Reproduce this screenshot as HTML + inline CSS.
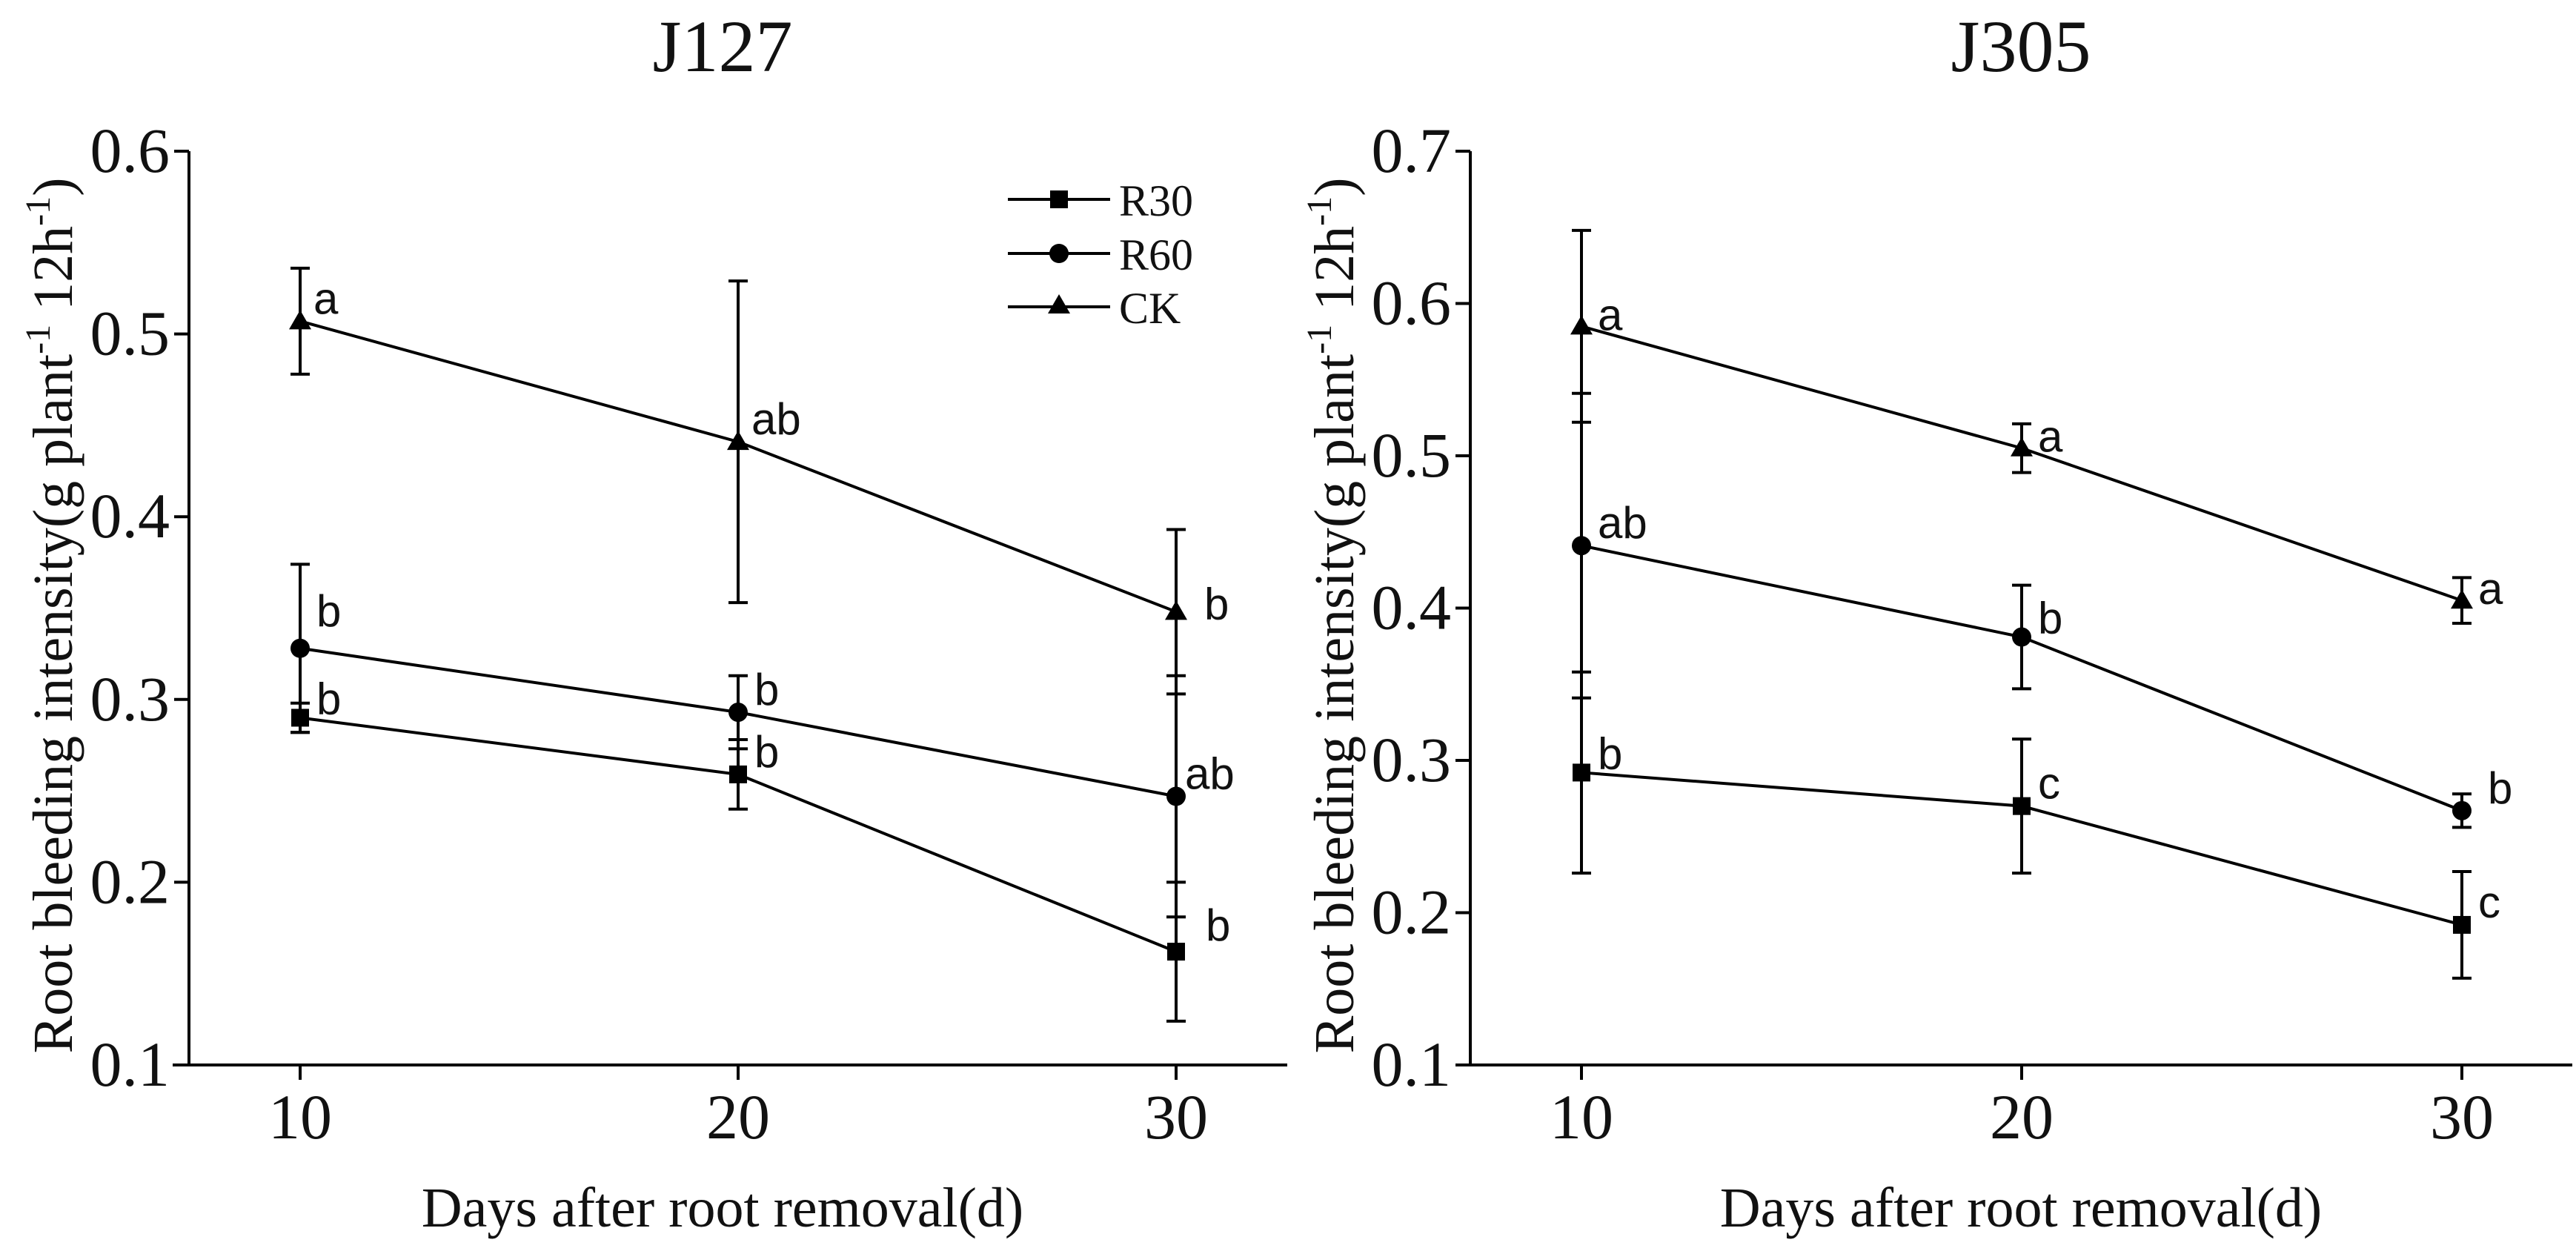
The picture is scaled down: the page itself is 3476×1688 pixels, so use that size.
<!DOCTYPE html>
<html><head><meta charset="utf-8"><style>
html,body{margin:0;padding:0;background:#fff;}
svg{display:block;}
text{fill:#111;}
.serif{font-family:"Liberation Serif",serif;}
.sans{font-family:"Liberation Sans",sans-serif;}
</style></head><body>
<svg id="chart" width="3476" height="1688" viewBox="0 0 3476 1688" xmlns="http://www.w3.org/2000/svg"></svg>
<script>
// ---- data ----
const days = [10, 20, 30];
const seriesNames = ["R30", "R60", "CK"];
// J127
const j127_R30 = [0.290, 0.259, 0.162];
const j127_R30_err = [0.008, 0.019, 0.038];
const j127_R60 = [0.328, 0.293, 0.247];
const j127_R60_err = [0.046, 0.020, 0.066];
const j127_CK = [0.507, 0.441, 0.348];
const j127_CK_err = [0.029, 0.088, 0.045];
const j127_R30_lab = ["b", "b", "b"];
const j127_R60_lab = ["b", "b", "ab"];
const j127_CK_lab = ["a", "ab", "b"];
// J305
const j305_R30 = [0.292, 0.270, 0.192];
const j305_R30_err = [0.066, 0.044, 0.035];
const j305_R60 = [0.441, 0.381, 0.267];
const j305_R60_err = [0.100, 0.034, 0.011];
const j305_CK = [0.585, 0.505, 0.405];
const j305_CK_err = [0.063, 0.016, 0.015];
const j305_R30_lab = ["b", "c", "c"];
const j305_R60_lab = ["ab", "b", "b"];
const j305_CK_lab = ["a", "a", "a"];
const j127_yticks = [0.1, 0.2, 0.3, 0.4, 0.5, 0.6];
const j305_yticks = [0.1, 0.2, 0.3, 0.4, 0.5, 0.6, 0.7];
const xticks = [10, 20, 30];

const NS = "http://www.w3.org/2000/svg";
const svg = document.getElementById("chart");
function el(tag, attrs, parent, txt) {
  const e = document.createElementNS(NS, tag);
  for (const k in attrs) e.setAttribute(k, attrs[k]);
  if (txt !== undefined) e.textContent = txt;
  (parent || svg).appendChild(e);
  return e;
}
function marker(g, kind, cx, cy) {
  let m;
  if (kind === "R30") m = el("rect", {x: cx - 12, y: cy - 12, width: 24, height: 24, fill: "#000"}, g);
  else if (kind === "R60") m = el("circle", {cx: cx, cy: cy, r: 13, fill: "#000"}, g);
  else m = el("polygon", {points: `${cx},${cy - 15} ${cx - 15},${cy + 11} ${cx + 15},${cy + 11}`, fill: "#000"}, g);
  
  
}

function panel(opt) {
  const g = el("g", {});
  
  
  const yMin = opt.yticks[0], yMax = opt.yticks[opt.yticks.length - 1];
  const Y = v => opt.yBot - (v - yMin) / (yMax - yMin) * (opt.yBot - opt.yTop);
  const X = d => opt.x10 + (d - 10) / 10 * (opt.x20 - opt.x10);
  const t = el("text", {x: opt.titleX, y: 96, "text-anchor": "middle", "font-size": 100, class: "serif"}, g, opt.title);
  
  
  const ya = el("line", {x1: opt.axX, y1: opt.yTop, x2: opt.axX, y2: opt.yBot, stroke: "#000", "stroke-width": 4}, g);
  
  
  const xa = el("line", {x1: opt.xStart, y1: opt.yBot, x2: opt.xEnd, y2: opt.yBot, stroke: "#000", "stroke-width": 4}, g);
  
  
  opt.yticks.forEach(v => {
    el("line", {x1: opt.axX - 20, y1: Y(v), x2: opt.axX, y2: Y(v), stroke: "#000", "stroke-width": 4}, g);
    const l = el("text", {x: opt.axX - 26, y: Y(v) + 28, "text-anchor": "end", "font-size": 86, class: "serif"}, g, v.toFixed(1));
    
    
  });
  xticks.forEach(d => {
    el("line", {x1: X(d), y1: opt.yBot, x2: X(d), y2: opt.yBot + 20, stroke: "#000", "stroke-width": 4}, g);
    const l = el("text", {x: X(d), y: 1536, "text-anchor": "middle", "font-size": 86, class: "serif"}, g, String(d));
    
    
  });
  const xt = el("text", {x: opt.titleX, y: 1655, "text-anchor": "middle", "font-size": 76, class: "serif"}, g, "Days after root removal(d)");
  
  
  const yt = el("text", {x: 0, y: 0, "text-anchor": "middle", "font-size": 76, class: "serif", transform: `translate(${opt.axX - 158},${(opt.yTop + opt.yBot) / 2 + 10}) rotate(-90)`}, g);
  
  
  el("tspan", {}, yt, "Root bleeding intensity(g plant");
  el("tspan", {dy: -30, "font-size": 48}, yt, "-1");
  el("tspan", {dy: 30}, yt, "  12h");
  el("tspan", {dy: -30, "font-size": 48}, yt, "-1");
  el("tspan", {dy: 30}, yt, ")");
  opt.series.forEach(s => {
    const sg = el("g", {}, g);
    
    
    const pts = days.map((d, i) => X(d) + "," + Y(s.vals[i])).join(" ");
    el("polyline", {points: pts, fill: "none", stroke: "#000", "stroke-width": 4}, sg);
    days.forEach((d, i) => {
      const x = X(d), hi = Y(s.vals[i] + s.err[i]), lo = Y(s.vals[i] - s.err[i]);
      const eb = el("path", {d: `M${x},${hi}V${lo}M${x - 13},${hi}H${x + 13}M${x - 13},${lo}H${x + 13}`, stroke: "#000", "stroke-width": 4, fill: "none"}, sg);
      
      
      marker(sg, s.name, x, Y(s.vals[i]));
      const lab = el("text", {x: x + s.lx[i], y: Y(s.vals[i]) + s.ly[i], "font-size": 60, class: "sans"}, sg, s.labs[i]);
      
      
    });
  });
  return g;
}

panel({name: "panel-j127", title: "J127", titleX: 975, axX: 255, xStart: 233, xEnd: 1737, yTop: 204, yBot: 1437, x10: 405, x20: 996,
  yticks: j127_yticks, series: [
  {name: "R30", vals: j127_R30, err: j127_R30_err, labs: j127_R30_lab, lx: [22, 22, 40], ly: [-5, -10, -15]},
  {name: "R60", vals: j127_R60, err: j127_R60_err, labs: j127_R60_lab, lx: [22, 22, 12], ly: [-30, -10, -10]},
  {name: "CK", vals: j127_CK, err: j127_CK_err, labs: j127_CK_lab, lx: [18, 18, 38], ly: [-10, -10, 10]}]});
panel({name: "panel-j305", title: "J305", titleX: 2727, axX: 1984, xStart: 1965, xEnd: 3471, yTop: 204, yBot: 1437, x10: 2134, x20: 2728,
  yticks: j305_yticks, series: [
  {name: "R30", vals: j305_R30, err: j305_R30_err, labs: j305_R30_lab, lx: [22, 22, 22], ly: [-5, -10, -10]},
  {name: "R60", vals: j305_R60, err: j305_R60_err, labs: j305_R60_lab, lx: [22, 22, 35], ly: [-10, -5, -10]},
  {name: "CK", vals: j305_CK, err: j305_CK_err, labs: j305_CK_lab, lx: [22, 22, 22], ly: [5, 5, 5]}]});

const lg = el("g", {});


const legY = [269, 342, 414];
seriesNames.forEach((n, i) => {
  const eg = el("g", {}, lg);
  
  
  el("line", {x1: 1360, y1: legY[i], x2: 1498, y2: legY[i], stroke: "#000", "stroke-width": 4}, eg);
  marker(eg, n, 1429, legY[i] + (n === "CK" ? -2 : 0));
  el("text", {x: 1510, y: legY[i] + 22, "font-size": 60, class: "serif"}, eg, n);
});
</script>
</body></html>
